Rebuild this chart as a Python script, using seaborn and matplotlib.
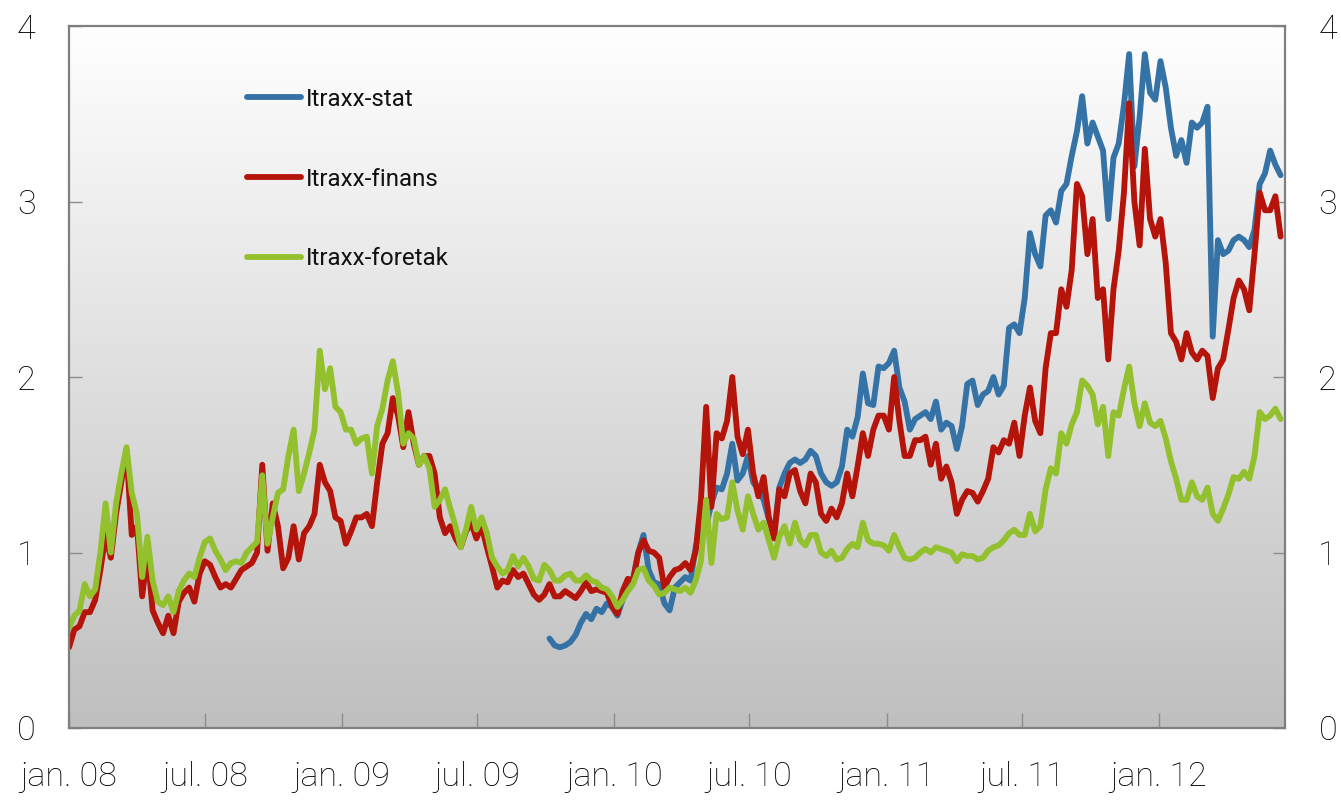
import numpy as np
import pandas as pd
import matplotlib
matplotlib.use("Agg")
import matplotlib.pyplot as plt
from matplotlib import font_manager
from matplotlib.colors import LinearSegmentedColormap
import seaborn as sns

# Weekly observations, the first one on 1 January 2008
START = "2008-01-01"

foretak = [
    0.57, 0.64, 0.67, 0.82, 0.75, 0.79, 1.00, 1.28, 1.00, 1.28,
    1.45, 1.60, 1.34, 1.22, 0.86, 1.09, 0.84, 0.72, 0.70, 0.75,
    0.66, 0.78, 0.84, 0.88, 0.86, 0.97, 1.06, 1.08, 1.01, 0.96,
    0.90, 0.94, 0.95, 0.94, 1.00, 1.03, 1.06, 1.44, 1.05,
    1.20, 1.34, 1.36, 1.55, 1.70, 1.35, 1.45, 1.57, 1.70, 2.15,
    1.93, 2.05, 1.83, 1.80, 1.70, 1.70, 1.62, 1.65, 1.66, 1.45,
    1.72, 1.82, 1.98, 2.09, 1.91, 1.62, 1.68, 1.65, 1.50, 1.55,
    1.48, 1.26, 1.30, 1.36, 1.25, 1.15, 1.03, 1.13,
    1.26, 1.13, 1.20, 1.11, 0.97, 0.92, 0.88, 0.90, 0.98, 0.92,
    0.97, 0.92, 0.85, 0.84, 0.93, 0.90, 0.84, 0.84, 0.87, 0.88,
    0.84, 0.84, 0.87, 0.84, 0.83, 0.80, 0.79, 0.75, 0.69, 0.73,
    0.78, 0.82, 0.90, 0.91, 0.84, 0.81, 0.76, 0.77, 0.80,
    0.79, 0.78, 0.80, 0.77, 0.84, 0.95, 1.30, 0.94, 1.22, 1.19,
    1.20, 1.40, 1.24, 1.13, 1.32, 1.22, 1.13, 1.17, 1.07, 0.97,
    1.09, 1.15, 1.05, 1.17, 1.07, 1.04, 1.10, 1.10, 1.00, 0.98,
    1.01, 0.96, 0.97, 1.02, 1.05, 1.03, 1.17, 1.07,
    1.05, 1.05, 1.04, 1.01, 1.10, 1.03, 0.97, 0.96, 0.97, 1.00,
    1.02, 1.00, 1.03, 1.02, 1.01, 1.00, 0.95, 0.99, 0.98, 0.98,
    0.96, 0.97, 1.01, 1.03, 1.04, 1.07, 1.11, 1.13, 1.10, 1.10,
    1.22, 1.12, 1.15, 1.36, 1.48, 1.45, 1.68, 1.62,
    1.73, 1.80, 1.98, 1.95, 1.90, 1.73, 1.83, 1.55, 1.80, 1.78,
    1.93, 2.06, 1.85, 1.72, 1.85, 1.74, 1.72, 1.75, 1.65, 1.52,
    1.42, 1.30, 1.30, 1.40, 1.32, 1.30, 1.37, 1.22, 1.18, 1.25,
    1.33, 1.43, 1.42, 1.46, 1.42, 1.55, 1.80, 1.76, 1.78, 1.82, 1.76,
]

finans = [
    0.46, 0.56, 0.58, 0.66, 0.66, 0.73, 0.90, 1.10, 0.97, 1.22,
    1.40, 1.58, 1.10, 1.15, 0.75, 1.00, 0.67, 0.60, 0.54, 0.64,
    0.54, 0.72, 0.77, 0.80, 0.72, 0.88, 0.95, 0.93, 0.86, 0.80,
    0.82, 0.80, 0.85, 0.90, 0.92, 0.94, 1.00, 1.50, 1.01,
    1.28, 1.15, 0.91, 0.97, 1.15, 0.96, 1.11, 1.15, 1.22, 1.50,
    1.40, 1.35, 1.20, 1.18, 1.05, 1.12, 1.20, 1.20, 1.22, 1.15,
    1.40, 1.62, 1.68, 1.88, 1.78, 1.60, 1.80, 1.62, 1.50, 1.55,
    1.55, 1.45, 1.20, 1.11, 1.15, 1.08, 1.03, 1.12,
    1.17, 1.08, 1.15, 1.03, 0.92, 0.80, 0.84, 0.83, 0.90, 0.86,
    0.88, 0.82, 0.76, 0.73, 0.76, 0.82, 0.75, 0.75, 0.78, 0.76,
    0.74, 0.78, 0.83, 0.78, 0.79, 0.78, 0.77, 0.69, 0.65, 0.78,
    0.85, 0.84, 1.00, 1.07, 1.01, 1.00, 0.97, 0.80, 0.86,
    0.90, 0.91, 0.94, 0.90, 1.01, 1.30, 1.83, 1.26, 1.68, 1.65,
    1.75, 2.00, 1.66, 1.56, 1.70, 1.45, 1.32, 1.43, 1.20, 1.08,
    1.36, 1.32, 1.45, 1.47, 1.35, 1.28, 1.45, 1.40, 1.22, 1.18,
    1.25, 1.20, 1.28, 1.45, 1.32, 1.49, 1.68, 1.55,
    1.70, 1.78, 1.78, 1.70, 2.00, 1.75, 1.55, 1.55, 1.64, 1.64,
    1.66, 1.50, 1.62, 1.42, 1.49, 1.40, 1.22, 1.30, 1.35, 1.34,
    1.29, 1.35, 1.42, 1.60, 1.57, 1.64, 1.62, 1.74, 1.55, 1.78,
    1.94, 1.75, 1.68, 2.05, 2.25, 2.25, 2.50, 2.40,
    2.61, 3.10, 3.03, 2.70, 2.90, 2.45, 2.50, 2.10, 2.50, 2.72,
    3.05, 3.56, 3.00, 2.75, 3.30, 2.90, 2.80, 2.90, 2.65, 2.25,
    2.20, 2.10, 2.25, 2.14, 2.10, 2.15, 2.12, 1.88, 2.05, 2.10,
    2.27, 2.45, 2.55, 2.50, 2.38, 2.70, 3.05, 2.95, 2.95, 3.03, 2.80,
]

# the sovereign index is only available from October 2009 (last weeks line up)
stat = [
    0.51, 0.47, 0.46, 0.47, 0.49, 0.53, 0.60, 0.65, 0.62, 0.68,
    0.66, 0.71, 0.69, 0.64, 0.73, 0.81, 0.85, 1.00, 1.10, 0.90,
    0.83, 0.82, 0.71, 0.67,
    0.80, 0.83, 0.86, 0.84, 1.03, 1.13, 1.15, 1.28, 1.37, 1.36,
    1.45, 1.62, 1.41, 1.45, 1.55, 1.40, 1.36, 1.30, 1.19, 1.11,
    1.37, 1.45, 1.51, 1.53, 1.51, 1.53, 1.58, 1.55, 1.45, 1.40,
    1.38, 1.40, 1.49, 1.70, 1.66, 1.77, 2.02, 1.85,
    1.84, 2.06, 2.05, 2.08, 2.15, 1.94, 1.86, 1.70, 1.76, 1.78,
    1.80, 1.76, 1.86, 1.70, 1.74, 1.72, 1.59, 1.72, 1.96, 1.98,
    1.84, 1.90, 1.92, 2.00, 1.90, 1.95, 2.28, 2.30, 2.25, 2.45,
    2.82, 2.70, 2.63, 2.92, 2.95, 2.88, 3.06, 3.10,
    3.26, 3.40, 3.60, 3.33, 3.45, 3.37, 3.29, 2.90, 3.25, 3.33,
    3.55, 3.84, 3.20, 3.48, 3.84, 3.62, 3.58, 3.80, 3.65, 3.42,
    3.26, 3.35, 3.22, 3.45, 3.42, 3.45, 3.54, 2.23, 2.78, 2.70,
    2.72, 2.78, 2.80, 2.78, 2.74, 2.84, 3.10, 3.16, 3.29, 3.21, 3.15,
]

series_names = ["Itraxx-stat", "Itraxx-finans", "Itraxx-foretak"]
series_colors = ["#3573a6", "#b5140a", "#93c02d"]

tick_dates = ["2008-01-01", "2008-07-01", "2009-01-01", "2009-07-01", "2010-01-01",
              "2010-07-01", "2011-01-01", "2011-07-01", "2012-01-01"]
tick_labels = ["jan. 08", "jul. 08", "jan. 09", "jul. 09", "jan. 10",
               "jul. 10", "jan. 11", "jul. 11", "jan. 12"]
y_ticks = [0, 1, 2, 3, 4]


def build_frame():
    dates = pd.date_range(START, periods=len(foretak), freq="7D")
    stat_full = [np.nan] * (len(dates) - len(stat)) + stat
    wide = pd.DataFrame({"dato": dates,
                         "Itraxx-stat": stat_full,
                         "Itraxx-finans": finans,
                         "Itraxx-foretak": foretak})
    long = wide.melt(id_vars="dato", var_name="serie", value_name="verdi")
    return long.dropna()


def pick_font():
    names = {f.name for f in font_manager.fontManager.ttflist}
    if "Liberation Sans Narrow" in names:
        return ["Liberation Sans Narrow", "DejaVu Sans"], 1.0
    return ["Roboto", "DejaVu Sans"], 0.94


def main():
    data = build_frame()

    sns.set_theme(style="white")
    family, scale = pick_font()
    plt.rcParams["font.family"] = family

    fig = plt.figure(figsize=(13.41, 8), dpi=100)
    rect = [0.0515, 0.09, 0.9068, 0.8775]

    # grey gradient behind the plot area
    bg = fig.add_axes(rect, zorder=0)
    grad = np.linspace(1, 0, 256).reshape(-1, 1)
    cmap = LinearSegmentedColormap.from_list("bg", ["#bfbfbf", "#ffffff"])
    bg.imshow(grad, aspect="auto", cmap=cmap, extent=[0, 1, 0, 1])
    bg.axis("off")

    ax = fig.add_axes(rect, zorder=1)
    ax.patch.set_alpha(0)

    sns.lineplot(data=data, x="dato", y="verdi", hue="serie",
                 hue_order=series_names, palette=series_colors,
                 estimator=None, errorbar=None, linewidth=4.2,
                 solid_capstyle="round", solid_joinstyle="round", ax=ax)

    ax.set_xlim(pd.Timestamp("2008-01-01"), pd.Timestamp("2012-06-18"))
    ax.set_ylim(0, 4)
    ax.set_xticks(pd.to_datetime(tick_dates))
    ax.set_xticklabels(tick_labels)
    ax.set_yticks(y_ticks)
    ax.set_yticklabels([str(t) for t in y_ticks])
    ax.set_xlabel("")
    ax.set_ylabel("")

    for side in ["top", "bottom", "left", "right"]:
        ax.spines[side].set_visible(True)
        ax.spines[side].set_color("#7f7f7f")
        ax.spines[side].set_linewidth(1.6)

    ax.tick_params(axis="y", which="both", direction="in", length=9, width=1,
                   color="#8c8c8c", left=True, right=True, labelleft=True,
                   labelright=True, labelsize=26 * scale, pad=24,
                   labelcolor="#000000")
    ax.tick_params(axis="x", direction="in", length=11, width=1, color="#8c8c8c",
                   bottom=True, labelsize=26 * scale, pad=24, labelcolor="#000000")
    for lab in ax.get_xticklabels():
        lab.set_fontweight("light")
    for t in ax.yaxis.get_major_ticks():
        t.label1.set_fontweight("light")
        t.label2.set_fontweight("light")

    handles, labels = ax.get_legend_handles_labels()
    leg = ax.legend(handles, labels, loc="upper left",
                    bbox_to_anchor=(0.146, 0.912), frameon=False,
                    fontsize=18.5 * scale, handlelength=2.25, handletextpad=0.2,
                    labelspacing=2.35, borderpad=0, borderaxespad=0)
    for line in leg.get_lines():
        line.set_linewidth(4.2)
        line.set_solid_capstyle("round")
    for txt in leg.get_texts():
        txt.set_color("#111111")

    fig.savefig("out.png", dpi=100)


if __name__ == "__main__":
    main()
